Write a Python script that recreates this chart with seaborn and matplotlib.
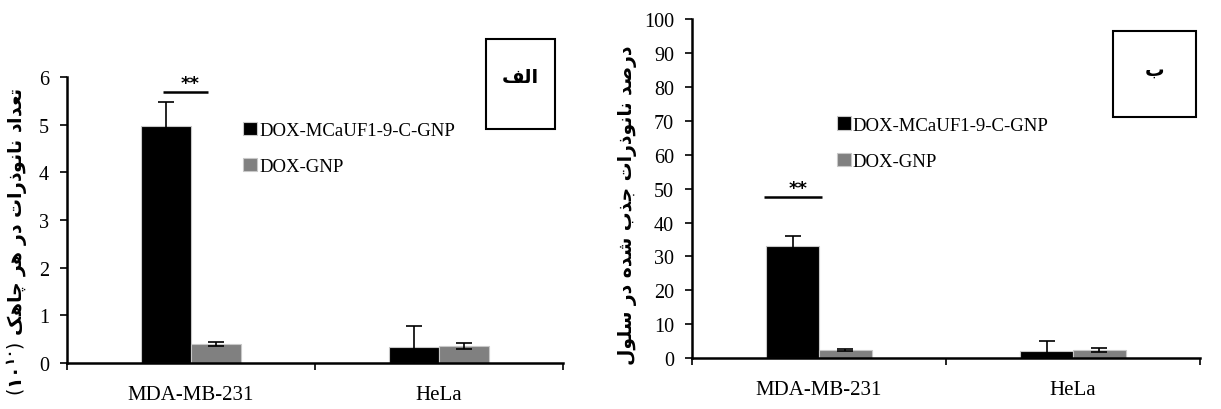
import numpy as np
import pandas as pd
import seaborn as sns
import matplotlib.pyplot as plt
from matplotlib.patches import Rectangle

# data
cells = ['MDA-MB-231', 'HeLa']
groups = ['DOX-MCaUF1-9-C-GNP', 'DOX-GNP']

count_targeted = [4.97, 0.33]
count_targeted_err = [0.50, 0.45]
count_plain = [0.40, 0.36]
count_plain_err = [0.04, 0.07]

pct_targeted = [33.0, 2.1]
pct_targeted_err = [3.0, 3.0]
pct_plain = [2.5, 2.4]
pct_plain_err = [0.3, 0.5]

ylabel_left = 'تعداد نانوذرات در هر چاهک'
ylabel_right = 'درصد نانوذرات جذب شده در سلول'
panel_left = 'الف'
panel_right = 'ب'

# minimal arabic shaping (matplotlib has no RTL/joining support)
FORMS = {
    'ا': (0xFE8D, 0xFE8E, None, None),
    'ب': (0xFE8F, 0xFE90, 0xFE91, 0xFE92),
    'ت': (0xFE95, 0xFE96, 0xFE97, 0xFE98),
    'ج': (0xFE9D, 0xFE9E, 0xFE9F, 0xFEA0),
    'د': (0xFEA9, 0xFEAA, None, None),
    'ذ': (0xFEAB, 0xFEAC, None, None),
    'ر': (0xFEAD, 0xFEAE, None, None),
    'س': (0xFEB1, 0xFEB2, 0xFEB3, 0xFEB4),
    'ش': (0xFEB5, 0xFEB6, 0xFEB7, 0xFEB8),
    'ص': (0xFEB9, 0xFEBA, 0xFEBB, 0xFEBC),
    'ع': (0xFEC9, 0xFECA, 0xFECB, 0xFECC),
    'ف': (0xFED1, 0xFED2, 0xFED3, 0xFED4),
    'ل': (0xFEDD, 0xFEDE, 0xFEDF, 0xFEE0),
    'ن': (0xFEE5, 0xFEE6, 0xFEE7, 0xFEE8),
    'ه': (0xFEE9, 0xFEEA, 0xFEEB, 0xFEEC),
    'و': (0xFEED, 0xFEEE, None, None),
    'چ': (0xFB7A, 0xFB7B, 0xFB7C, 0xFB7D),
    'ک': (0xFB8E, 0xFB8F, 0xFB90, 0xFB91),
}


def shape(text):
    out = []
    for i, ch in enumerate(text):
        if ch not in FORMS:
            out.append(ch)
            continue
        iso, fin, ini, med = FORMS[ch]
        prev = text[i - 1] if i > 0 else ''
        nxt = text[i + 1] if i + 1 < len(text) else ''
        join_prev = prev in FORMS and FORMS[prev][2] is not None
        join_next = ini is not None and nxt in FORMS
        if join_prev and join_next:
            code = med
        elif join_prev:
            code = fin
        elif join_next:
            code = ini
        else:
            code = iso
        out.append(chr(code))
    return ''.join(out)[::-1]


plt.rcParams['font.family'] = ['Liberation Serif', 'DejaVu Sans']
plt.rcParams['mathtext.fontset'] = 'dejavusans'

fig = plt.figure(figsize=(12.21, 4.10), dpi=100)
ax1 = fig.add_axes([0.0549, 0.112, 0.4063, 0.698])
ax2 = fig.add_axes([0.5668, 0.124, 0.4160, 0.827])

palette = {groups[0]: '#000000', groups[1]: '#808080'}


def draw_panel(ax, vals_a, err_a, vals_b, err_b, width, ylim, yticks, xlim):
    df = pd.DataFrame({
        'cell': cells * 2,
        'group': [groups[0]] * 2 + [groups[1]] * 2,
        'value': list(vals_a) + list(vals_b),
    })
    sns.barplot(data=df, x='cell', y='value', hue='group', order=cells,
                hue_order=groups, palette=palette, width=width, gap=0,
                errorbar=None, edgecolor='#c8c8c8', linewidth=0.8,
                saturation=1, ax=ax)
    errs = list(err_a) + list(err_b)
    for patch, err in zip(ax.patches[:4], errs):
        xc = patch.get_x() + patch.get_width() / 2
        ax.errorbar(xc, patch.get_height(), yerr=err, color='black',
                    capsize=6, elinewidth=1.2, capthick=1.2, zorder=5)
    ax.set_xlim(*xlim)
    ax.set_ylim(*ylim)
    ax.set_yticks(yticks)
    ax.set_xlabel('')
    ax.set_ylabel('')
    ax.set_xticks([-0.5, 0.5, 1.5], minor=True)
    ax.tick_params(axis='x', which='major', length=0, labelsize=15, pad=16)
    ax.tick_params(axis='x', which='minor', length=5, width=1.2, direction='out')
    ax.tick_params(axis='y', length=5, width=1.2, labelsize=14.5, pad=8)
    for side in ['top', 'right']:
        ax.spines[side].set_visible(False)
    for side in ['left', 'bottom']:
        ax.spines[side].set_linewidth(1.8)
        ax.spines[side].set_color('black')
    ax.set_facecolor('white')


draw_panel(ax1, count_targeted, count_targeted_err, count_plain, count_plain_err,
           0.40, (0, 6), range(0, 7), (-0.5, 1.5))
draw_panel(ax2, pct_targeted, pct_targeted_err, pct_plain, pct_plain_err,
           0.416, (0, 100), range(0, 101, 10), (-0.5, 1.4))

# legends
for ax, anchor in [(ax1, (0.34, 0.87)), (ax2, (0.27, 0.735))]:
    handles, labels = ax.get_legend_handles_labels()
    ax.legend(handles, labels, loc='upper left', bbox_to_anchor=anchor,
              frameon=False, fontsize=13.5, handlelength=0.75, handleheight=0.75,
              handletextpad=0.1, labelspacing=1.0, borderaxespad=0)

# significance markers
for ax, xs, y in [(ax1, (-0.113, 0.069), 5.68), (ax2, (-0.215, 0.01), 47.5)]:
    ax.plot(xs, [y, y], color='black', linewidth=1.8, solid_capstyle='butt')
    ax.text(np.mean(xs) + 0.02, y, '**', ha='center', va='bottom',
            fontsize=13, fontweight='bold', family='DejaVu Sans')

# y labels (persian, rotated)
fig.text(0.014, 0.41, r'$(\mathbf{۱۰^{۱۰}})$ ' + shape(ylabel_left),
         rotation=90, ha='center', va='center', fontsize=13.5,
         fontweight='bold', family='DejaVu Sans')
fig.text(0.514, 0.50, shape(ylabel_right), rotation=90, ha='center',
         va='center', fontsize=13.5, fontweight='bold', family='DejaVu Sans')

# panel boxes
for (x0, y0, x1, y1), label in [((486, 40, 555, 130), panel_left),
                                ((1113, 32, 1196, 118), panel_right)]:
    fig.add_artist(Rectangle((x0 / 1221, 1 - y1 / 410), (x1 - x0) / 1221,
                             (y1 - y0) / 410, transform=fig.transFigure,
                             fill=False, edgecolor='black', linewidth=1.5))
    fig.text((x0 + x1) / 2 / 1221, 1 - (y0 + 38) / 410, shape(label),
             ha='center', va='center', fontsize=14, fontweight='bold',
             family='DejaVu Sans')

fig.savefig('out.png', dpi=100, facecolor='white')
